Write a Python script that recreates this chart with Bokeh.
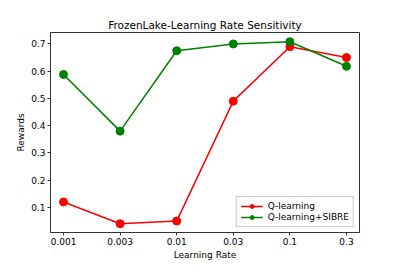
from bokeh.plotting import figure
from bokeh.models import FixedTicker, Range1d, Legend, LegendItem
from bokeh.embed import file_html
from bokeh.resources import INLINE

learning_rates = ["0.001", "0.003", "0.01", "0.03", "0.1", "0.3"]
q_learning = [0.12, 0.04, 0.05, 0.49, 0.69, 0.65]
q_sibre = [0.588, 0.38, 0.675, 0.70, 0.708, 0.618]
y_ticks = [0.1, 0.2, 0.3, 0.4, 0.5, 0.6, 0.7]

xs = list(range(len(learning_rates)))
FONT = "DejaVu Sans"

p = figure(width=391, height=262, output_backend="svg", toolbar_location=None,
           x_range=Range1d(-0.23, len(learning_rates) - 1 + 0.23),
           y_range=Range1d(0.008, 0.742),
           min_border_left=50, min_border_top=32, min_border_right=32, min_border_bottom=30)

p.title.text = "FrozenLake-Learning Rate Sensitivity"
p.title.align = "center"
p.title.text_font = FONT
p.title.text_font_size = "10.5px"
p.title.text_font_style = "normal"
p.title.text_color = "black"
p.title.offset = 0
p.title.standoff = 3

p.xgrid.visible = False
p.ygrid.visible = False
p.outline_line_color = "#333333"
p.outline_line_width = 1

p.xaxis.ticker = FixedTicker(ticks=xs)
p.xaxis.major_label_overrides = {i: lab for i, lab in enumerate(learning_rates)}
p.yaxis.ticker = FixedTicker(ticks=y_ticks)
p.yaxis.major_label_overrides = {t: f"{t:.1f}" for t in y_ticks}
p.xaxis.axis_label = "Learning Rate"
p.yaxis.axis_label = "Rewards"
for ax in (p.xaxis[0], p.yaxis[0]):
    ax.axis_label_text_font = FONT
    ax.axis_label_text_font_size = "9px"
    ax.axis_label_text_font_style = "normal"
    ax.axis_label_text_color = "black"
    ax.major_label_text_font = FONT
    ax.major_label_text_font_size = "9px"
    ax.major_label_text_color = "black"
    ax.minor_tick_line_color = None
    ax.major_tick_out = 3
    ax.major_tick_in = 0
    ax.major_label_standoff = 2
    ax.axis_label_standoff = 2
    ax.axis_line_color = "#333333"
    ax.major_tick_line_color = "#333333"

l1 = p.line(xs, q_learning, color="#ff0000", line_width=1.5)
c1 = p.scatter(xs, q_learning, color="#ff0000", size=8)
l2 = p.line(xs, q_sibre, color="#008000", line_width=1.5)
c2 = p.scatter(xs, q_sibre, color="#008000", size=8)

legend = Legend(items=[LegendItem(label="Q-learning", renderers=[l1, c1]),
                       LegendItem(label="Q-learning+SIBRE", renderers=[l2, c2])],
                location="bottom_right")
legend.label_text_font = FONT
legend.label_text_font_size = "9px"
legend.label_text_color = "black"
legend.glyph_height = 10
legend.glyph_width = 22
legend.label_height = 10
legend.spacing = 1
legend.padding = 4
legend.margin = 5
legend.border_line_color = "#cccccc"
legend.border_line_alpha = 1
legend.background_fill_alpha = 0.8
p.add_layout(legend)

open("out.html", "w").write(file_html(p, INLINE))
